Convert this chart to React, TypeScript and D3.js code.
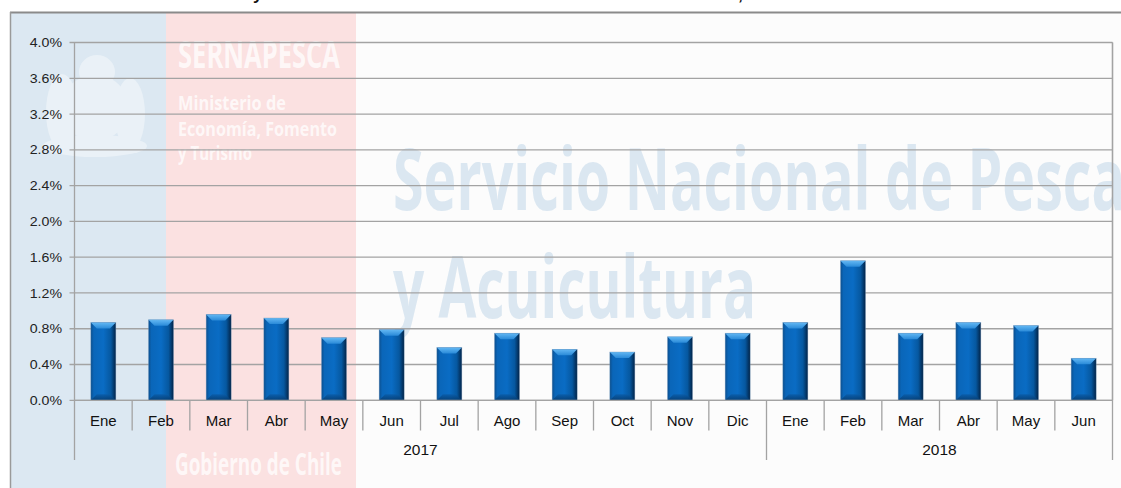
import React from "react";
import * as d3 from "d3";

const months = ["Ene", "Feb", "Mar", "Abr", "May", "Jun", "Jul", "Ago", "Sep", "Oct", "Nov", "Dic", "Ene", "Feb", "Mar", "Abr", "May", "Jun"];
const values = [0.87, 0.9, 0.96, 0.92, 0.7, 0.79, 0.59, 0.75, 0.57, 0.54, 0.71, 0.75, 0.87, 1.56, 0.75, 0.87, 0.835, 0.47];
const years = ["2017", "2018"];
const monthsPerYear = [12, 6];
const yTicks = [0, 0.4, 0.8, 1.2, 1.6, 2.0, 2.4, 2.8, 3.2, 3.6, 4.0];

const W = 1121;
const H = 488;
const left = 74.5;
const right = 1112.5;
const top = 42.5;
const bottom = 400.3;

const FONT = "'Liberation Sans', Arial, sans-serif";
const WM = "'Open Sans', 'Liberation Sans Narrow', 'Liberation Sans', sans-serif";

export default function App() {
  const idx = months.map((_, i) => i);
  const y = d3.scaleLinear().domain([0, 4]).range([bottom, top]);
  const cell = d3.scaleBand<number>().domain(idx).range([left, right]).padding(0);
  const x = d3
    .scaleBand<number>()
    .domain(idx)
    .range([left, right])
    .paddingInner(0.566)
    .paddingOuter(0.283);
  const bw = x.bandwidth();
  const step = cell.step();

  const yearStarts: number[] = [];
  let acc = 0;
  monthsPerYear.forEach((n) => {
    yearStarts.push(acc);
    acc += n;
  });
  const yearBoundarySet = new Set<number>([...yearStarts, months.length]);

  const gridColor = "#a3a3a3";

  return (
    <svg
      width={W}
      height={H}
      style={{ position: "absolute", left: 0, top: 0, display: "block" }}
    >
      <defs>
        <linearGradient id="barBody" x1="0" x2="1" y1="0" y2="0">
          <stop offset="0" stopColor="#0c4f8e" />
          <stop offset="0.12" stopColor="#0a66b9" />
          <stop offset="0.5" stopColor="#0a6cc4" />
          <stop offset="0.8" stopColor="#0658a0" />
          <stop offset="1" stopColor="#022347" />
        </linearGradient>
        <linearGradient id="barTop" x1="0" x2="0" y1="0" y2="1">
          <stop offset="0" stopColor="#63b8f4" />
          <stop offset="1" stopColor="#2a8ad8" />
        </linearGradient>
        <linearGradient id="barBottom" x1="0" x2="0" y1="0" y2="1">
          <stop offset="0" stopColor="#0a5ba6" />
          <stop offset="1" stopColor="#05386a" />
        </linearGradient>
      </defs>

      <rect x={0} y={0} width={W} height={H} fill="#ffffff" />
      <rect x={10} y={12} width={W - 10} height={H - 12} fill="#fcfcfc" />
      <rect x={10} y={12} width={156} height={H - 12} fill="#dce8f2" />
      <rect x={166} y={12} width={190} height={H - 12} fill="#fbe1e1" />

      {/* cut-off title fragments */}
      <text x={253} y={0} fontFamily={FONT} fontWeight="bold" fontSize={17} fill="#111">y</text>
      <text x={738} y={0} fontFamily={FONT} fontWeight="bold" fontSize={17} fill="#111">,</text>

      {/* coat of arms watermark (rough silhouette) */}
      <g fill="#ffffff" opacity={0.4}>
        <ellipse cx={97} cy={72} rx={18} ry={17} />
        <ellipse cx={95} cy={108} rx={34} ry={33} />
        <ellipse cx={62} cy={112} rx={16} ry={38} />
        <ellipse cx={130} cy={114} rx={15} ry={36} />
        <ellipse cx={95} cy={146} rx={52} ry={11} />
      </g>

      <g fill="#ffffff" opacity={0.75} fontFamily={WM} fontWeight={700}>
        <text x={178} y={68} fontSize={38} textLength={162} lengthAdjust="spacingAndGlyphs">SERNAPESCA</text>
        <text x={178} y={110} fontSize={19} textLength={108} lengthAdjust="spacingAndGlyphs">Ministerio de</text>
        <text x={178} y={136} fontSize={19} textLength={159} lengthAdjust="spacingAndGlyphs">Economía, Fomento</text>
        <text x={178} y={160} fontSize={19} textLength={74} lengthAdjust="spacingAndGlyphs">y Turismo</text>
        <text x={175} y={475} fontSize={30} textLength={167} lengthAdjust="spacingAndGlyphs">Gobierno de Chile</text>
      </g>
      <g fill="#dbe7f1" fontFamily={WM} fontWeight={700}>
        <text x={393} y={210} fontSize={86} textLength={732} lengthAdjust="spacingAndGlyphs">Servicio Nacional de Pesca</text>
        <text x={393} y={318} fontSize={86} textLength={363} lengthAdjust="spacingAndGlyphs">y Acuicultura</text>
      </g>

      <line x1={10} x2={W} y1={12.5} y2={12.5} stroke="#8a8a8a" strokeWidth={2} />
      <line x1={10.5} x2={10.5} y1={12} y2={H} stroke="#9a9a9a" strokeWidth={1.5} />

      {yTicks.map((t) => (
        <line key={"g" + t} x1={left - 5} x2={right} y1={y(t)} y2={y(t)} stroke={gridColor} strokeWidth={1.3} />
      ))}
      <line x1={right} x2={right} y1={top} y2={bottom} stroke={gridColor} strokeWidth={1.3} />

      {yTicks.map((t) => (
        <text
          key={"l" + t}
          transform={`translate(62,${y(t) + 4.6}) scale(1.18,1)`}
          textAnchor="end"
          fontFamily={FONT}
          fontSize={12}
          fill="#222"
        >
          {t.toFixed(1) + "%"}
        </text>
      ))}

      {values.map((v, i) => {
        const bx = x(i)!;
        const by = y(v);
        const bh = bottom - by;
        const b = Math.min(6, bh / 3);
        return (
          <g key={"b" + i}>
            <rect x={bx} y={by} width={bw} height={bh} fill="url(#barBody)" />
            <polygon
              points={`${bx},${by} ${bx + bw},${by} ${bx + bw - b},${by + b} ${bx + b},${by + b}`}
              fill="url(#barTop)"
            />
            <polygon
              points={`${bx},${by + bh} ${bx + bw},${by + bh} ${bx + bw - b},${by + bh - b} ${bx + b},${by + bh - b}`}
              fill="url(#barBottom)"
              opacity={0.8}
            />
            <rect x={bx} y={by} width={bw} height={bh} fill="none" stroke="#7a9cc0" strokeWidth={0.6} opacity={0.6} />
          </g>
        );
      })}

      <line x1={left} x2={right} y1={bottom} y2={bottom} stroke={gridColor} strokeWidth={1.3} />
      {d3.range(months.length + 1).map((i) => {
        const xx = left + i * step;
        const isYear = yearBoundarySet.has(i);
        return (
          <line
            key={"s" + i}
            x1={xx}
            x2={xx}
            y1={i === 0 || i === months.length ? top : bottom}
            y2={isYear ? 460 : 430.5}
            stroke={gridColor}
            strokeWidth={1.3}
          />
        );
      })}

      {months.map((m, i) => (
        <text
          key={"m" + i}
          x={cell(i)! + step / 2}
          y={425.5}
          textAnchor="middle"
          fontFamily={FONT}
          fontSize={15}
          fill="#111"
        >
          {m}
        </text>
      ))}

      {years.map((yr, k) => {
        const s = yearStarts[k];
        const e = s + monthsPerYear[k];
        const cx = (left + s * step + left + e * step) / 2;
        return (
          <text key={yr} x={cx} y={455} textAnchor="middle" fontFamily={FONT} fontSize={15.5} fill="#111">
            {yr}
          </text>
        );
      })}
    </svg>
  );
}
